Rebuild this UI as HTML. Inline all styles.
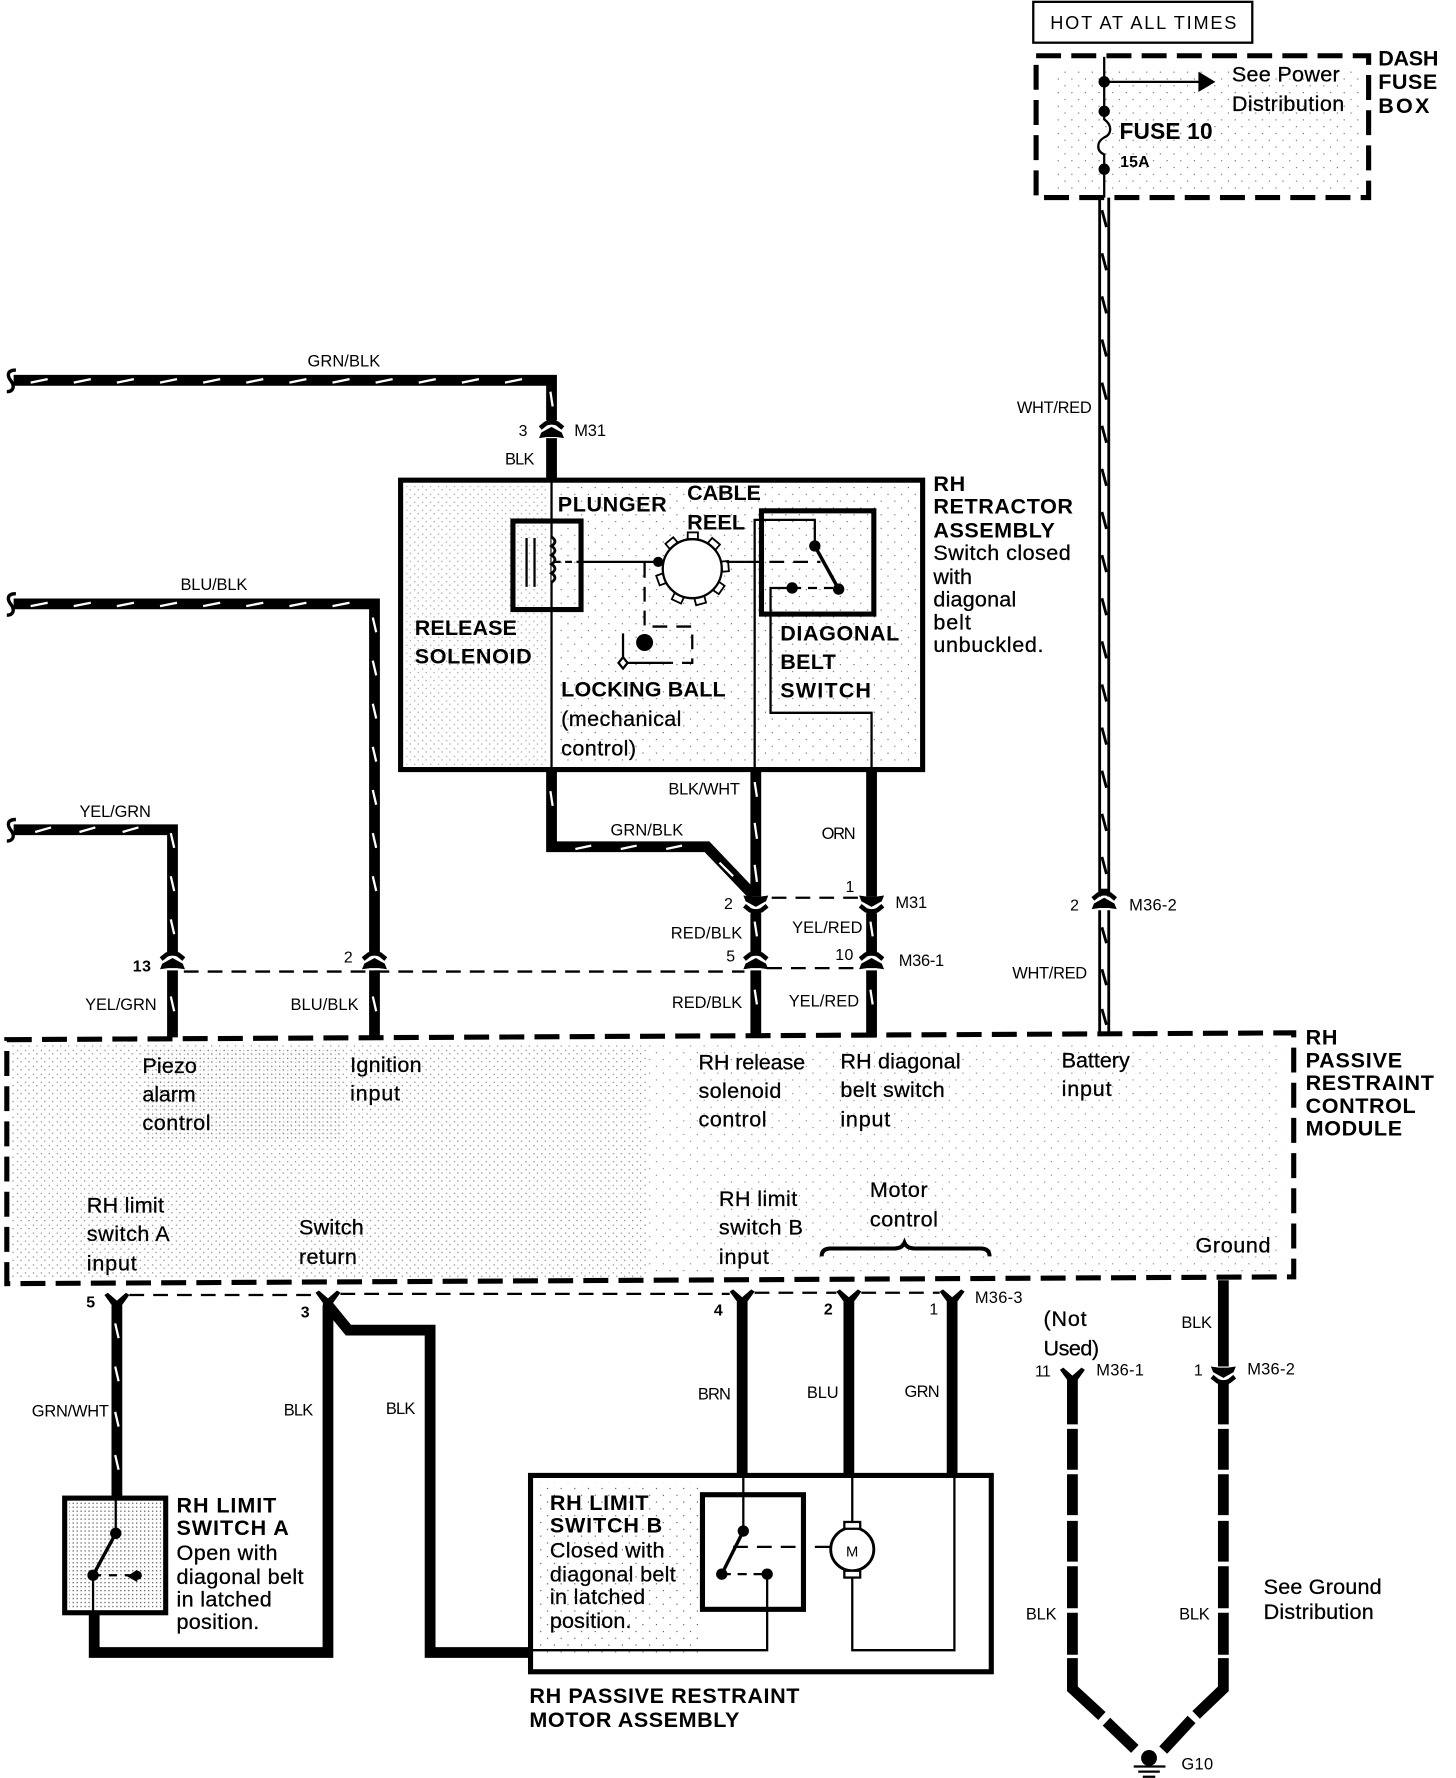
<!DOCTYPE html>
<html><head><meta charset="utf-8"><style>
html,body{margin:0;padding:0;background:#fff}
svg{display:block}
text{font-family:"Liberation Sans",sans-serif;fill:#000;transform:translate(-.5px,-.5px)}
.w{font-size:14.5px;transform:none}
.r{font-size:19px;stroke:#000;stroke-width:.25}
.b{font-size:19px;font-weight:bold;transform:translate(-.5px,-1.5px)}
.n{font-size:14px;transform:none}
.nb{font-size:14px;font-weight:bold;transform:none}
.wire{fill:none;stroke:#000;stroke-width:9.5;stroke-linejoin:miter}
.mk{fill:none;stroke:#fff;stroke-width:2}
.t{fill:none;stroke:#000;stroke-width:2}
.dt{fill:none;stroke:#000;stroke-width:2;stroke-dasharray:13 8}
.box{fill:none;stroke:#000;stroke-width:4.5}
.dbox{fill:none;stroke:#000;stroke-width:4.5;stroke-dasharray:22 9}
</style></head><body>
<svg width="1456" height="1778" viewBox="0 0 1283 1566.5" xmlns="http://www.w3.org/2000/svg">
<defs>
<pattern id="s1" width="7" height="7" patternUnits="userSpaceOnUse"><rect x="1" y="1" width="1" height="1" fill="#000"/><rect x="4" y="4" width="1" height="1" fill="#000"/></pattern>
<pattern id="s2" width="3.5" height="3.5" patternUnits="userSpaceOnUse"><rect x="1" y="1" width="1" height="1" fill="#000"/></pattern>
<pattern id="s3" width="12" height="12" patternUnits="userSpaceOnUse"><rect x="2" y="3" width="1" height="1" fill="#000"/><rect x="8" y="9" width="1" height="1" fill="#000"/></pattern>
<g id="dn">
<path d="M-11,-6 L-4,-5 L4,-5 L11,-6 L9,-1 L0,4 L-9,-1Z" fill="#000"/>
<path d="M-10,3 L-5,7 Q0,9 5,7 L10,3" fill="none" stroke="#000" stroke-width="4"/>
<rect x="-4.5" y="7" width="9" height="5" fill="#000"/>
</g>
<path id="y" d="M-11,-9 L-8,-11 L0,-4 L8,-11 L11,-9 L4.5,0 L4.5,5 L-4.5,5 L-4.5,0Z" fill="#000"/>
</defs>
<rect width="1283" height="1567" fill="#fff"/>

<!-- stipple -->
<rect x="930" y="60" width="270" height="110" fill="url(#s3)" opacity=".6"/>
<rect x="358" y="428" width="125" height="246" fill="url(#s1)" opacity=".45"/>
<rect x="490" y="428" width="318" height="246" fill="url(#s3)" opacity=".6"/>
<rect x="10" y="921" width="560" height="206" fill="url(#s1)" opacity=".55"/>
<rect x="130" y="925" width="170" height="80" fill="url(#s2)" opacity=".3"/>
<rect x="570" y="921" width="560" height="200" fill="url(#s3)" opacity=".5"/>
<rect x="61" y="1323" width="81" height="94" fill="url(#s2)" opacity=".8"/>
<rect x="472" y="1306" width="145" height="150" fill="url(#s3)" opacity=".7"/>

<!-- HOT box -->
<rect x="910.5" y="1.5" width="193" height="36" fill="none" stroke="#000" stroke-width="2"/>
<text x="926" y="26" font-size="16" textLength="164">HOT AT ALL TIMES</text>

<!-- Fuse box -->
<rect x="913" y="49" width="293" height="125" class="dbox"/>
<path d="M973,50 V105 C980,110 980,118 973,121 C966,125 966,133 973,136 V174" class="t"/>
<circle cx="973" cy="72" r="5"/><circle cx="973" cy="98" r="5"/><circle cx="973" cy="149" r="5"/>
<line x1="973" y1="72" x2="1060" y2="72" class="t"/>
<polygon points="1056,63 1071,72 1056,81"/>
<text class="r" x="1086" y="72" textLength="95">See Power</text>
<text class="r" x="1086" y="98" textLength="99">Distribution</text>
<text x="987" y="123" font-size="20" font-weight="bold" textLength="82">FUSE 10</text>
<text class="nb" x="987" y="147" textLength="26">15A</text>
<text class="b" x="1215" y="59" textLength="53">DASH</text>
<text class="b" x="1215" y="80" textLength="52">FUSE</text>
<text class="b" x="1215" y="101" textLength="45">BOX</text>

<!-- WHT/RED -->
<path d="M969,174 V790 M977,174 V790 M969,802 V912 M977,802 V912" fill="none" stroke="#000" stroke-width="2.5"/>
<path d="M971,185l4,15m-4,23l4,15m-4,23l4,15m-4,23l4,15m-4,23l4,15m-4,23l4,15m-4,23l4,15m-4,23l4,15m-4,23l4,15m-4,23l4,15m-4,23l4,15m-4,23l4,15m-4,23l4,15m-4,23l4,15m-4,23l4,15m-4,23l4,15 M971,817l4,14 M971,854l4,14 M971,889l4,14" fill="none" stroke="#000" stroke-width="2.5"/>
<use href="#dn" transform="translate(973,795) scale(1,-1)"/>
<text class="w" x="896" y="364" textLength="66">WHT/RED</text>
<text class="n" x="943" y="802">2</text>
<text class="w" x="995" y="802" textLength="42">M36-2</text>
<text class="w" x="892" y="862" textLength="66">WHT/RED</text>

<!-- GRN/BLK top -->
<path d="M12,335 H486 V370" class="wire"/>
<path d="M27,337l15-3m23,3l15-3m23,3l15-3m23,3l15-3m23,3l15-3m23,3l15-3m23,3l15-3m23,3l15-3m23,3l15-3m23,3l15-3m23,3l15-3m23,3l15-3 M485,345l2,13" class="mk"/>
<path d="M14,326 C6,326 6,331 10,336 C13,340 12,345 6,345" fill="none" stroke="#000" stroke-width="3"/>
<text class="w" x="271" y="323" textLength="64">GRN/BLK</text>
<use href="#dn" transform="translate(486,380) scale(1,-1)"/>
<path d="M486,386 V423" class="wire"/>
<text class="n" x="457" y="384">3</text>
<text class="w" x="506" y="384" textLength="28">M31</text>
<text class="w" x="445" y="409" textLength="26">BLK</text>

<!-- Retractor -->
<rect x="353" y="423" width="460" height="255" class="box"/>
<line x1="486" y1="423" x2="486" y2="678" class="t"/>
<rect x="452" y="459" width="60" height="78" class="box"/>
<path d="M464,474 V517 M471,474 V517" class="t"/>
<path d="M486,473 q6,4 0,8 q6,4 0,8 q6,4 0,8 q6,4 0,8 q6,4 0,8" fill="#fff" stroke="#000" stroke-width="2.5"/>
<path d="M488,495 H512" class="t" stroke-dasharray="6 4"/>
<line x1="512" y1="495" x2="582" y2="495" class="t"/>
<g fill="#fff" stroke="#000" stroke-width="1.6">
<rect x="606" y="469" width="9" height="6" transform="rotate(0 610 501)"/>
<rect x="606" y="469" width="9" height="6" transform="rotate(40 610 501)"/>
<rect x="606" y="469" width="9" height="6" transform="rotate(85 610 501)"/>
<rect x="606" y="469" width="9" height="6" transform="rotate(125 610 501)"/>
<rect x="606" y="469" width="9" height="6" transform="rotate(165 610 501)"/>
<rect x="606" y="469" width="9" height="6" transform="rotate(205 610 501)"/>
<rect x="606" y="469" width="9" height="6" transform="rotate(250 610 501)"/>
<rect x="606" y="469" width="9" height="6" transform="rotate(320 610 501)"/>
</g>
<circle cx="610" cy="501" r="26" fill="#fff" stroke="#000" stroke-width="2"/>
<circle cx="580" cy="495" r="4.5"/>
<path d="M640,495 H657" class="t"/>
<path d="M657,495 H723" class="dt"/>
<path d="M568,496 V552 H610 V584 H592" class="dt"/>
<path d="M592,584 H550 M549,584 V558" class="t"/>
<path d="M549,579 L553,584 L549,589 L545,584Z" fill="#fff" stroke="#000" stroke-width="2"/>
<circle cx="568" cy="566" r="7.5"/>
<rect x="671" y="450" width="99" height="91" class="box" stroke-width="4"/>
<path d="M665,678 V458 H718 V481" class="t"/>
<circle cx="718" cy="481" r="5"/>
<path d="M718,481 L739,519" fill="none" stroke="#000" stroke-width="3"/>
<circle cx="739" cy="519" r="5"/><circle cx="698" cy="518" r="5"/>
<path d="M698,518 H739" class="t" stroke-dasharray="8 6" stroke-width="2.5"/>
<path d="M698,518 H679 V628 H768 V678" class="t"/>
<text class="b" x="492" y="452" textLength="96">PLUNGER</text>
<text class="b" x="606" y="442" textLength="65">CABLE</text>
<text class="b" x="606" y="468" textLength="51">REEL</text>
<text class="b" x="366" y="561" textLength="90">RELEASE</text>
<text class="b" x="366" y="586" textLength="103">SOLENOID</text>
<text class="b" x="688" y="566" textLength="105">DIAGONAL</text>
<text class="b" x="688" y="591" textLength="49">BELT</text>
<text class="b" x="688" y="616" textLength="80">SWITCH</text>
<text class="b" x="495" y="615" textLength="145">LOCKING BALL</text>
<text class="r" x="495" y="640" textLength="106">(mechanical</text>
<text class="r" x="495" y="666" textLength="66">control)</text>
<text class="b" x="823" y="434" textLength="28">RH</text>
<text class="b" x="823" y="454" textLength="123">RETRACTOR</text>
<text class="b" x="823" y="475" textLength="107">ASSEMBLY</text>
<text class="r" x="823" y="494" textLength="121">Switch closed</text>
<text class="r" x="823" y="515" textLength="34">with</text>
<text class="r" x="823" y="535" textLength="73">diagonal</text>
<text class="r" x="823" y="555" textLength="33">belt</text>
<text class="r" x="823" y="575" textLength="97">unbuckled.</text>

<!-- below retractor -->
<path d="M486,678 V746 H623 L664,789" class="wire" stroke-width="9"/>
<path d="M485,697l2,13 M507,748l14-3m26,3l14-3m26,3l14-3 M634,760l12,12" class="mk"/>
<path d="M666,678 V790" class="wire"/>
<path d="M665,689l2,13 M665,725l2,14 M665,762l2,15" class="mk"/>
<path d="M768,678 V790" class="wire"/>
<text class="w" x="589" y="700" textLength="63">BLK/WHT</text>
<text class="w" x="538" y="736" textLength="64">GRN/BLK</text>
<text class="w" x="724" y="739" textLength="30">ORN</text>
<use href="#dn" transform="translate(666,795)"/>
<use href="#dn" transform="translate(768,795)"/>
<path d="M680,791 H760" class="dt"/>
<text class="n" x="638" y="801">2</text>
<text class="n" x="745" y="786">1</text>
<text class="w" x="789" y="800" textLength="28">M31</text>
<path d="M666,805 V842 M768,805 V842" class="wire"/>
<path d="M665,812l2,13 M767,812l2,13" class="mk"/>
<text class="w" x="591" y="827" textLength="63">RED/BLK</text>
<text class="w" x="698" y="822" textLength="62">YEL/RED</text>
<use href="#dn" transform="translate(666,848) scale(1,-1)"/>
<use href="#dn" transform="translate(768,848) scale(1,-1)"/>
<text class="n" x="640" y="847">5</text>
<text class="n" x="736" y="846" textLength="16">10</text>
<text class="w" x="792" y="851" textLength="40">M36-1</text>
<path d="M666,855 V914" class="wire" stroke-width="10.5"/><path d="M768,855 V914" class="wire" stroke-width="10.5"/>
<path d="M665,872l2,13 M767,872l2,13" class="mk"/>
<text class="w" x="592" y="888" textLength="62">RED/BLK</text>
<text class="w" x="695" y="887" textLength="62">YEL/RED</text>

<!-- BLU/BLK -->
<path d="M12,532 H330 V840" class="wire"/>
<path d="M27,534l15-3m23,3l15-3m23,3l15-3m23,3l15-3m23,3l15-3m23,3l15-3m23,3l15-3m23,3l15-3 M328.5,544l3,13m-3,25l3,13m-3,25l3,13m-3,25l3,13m-3,25l3,13m-3,25l3,13m-3,25l3,13" class="mk"/>
<path d="M14,523 C6,523 6,528 10,533 C13,537 12,542 6,542" fill="none" stroke="#000" stroke-width="3"/>
<text class="w" x="159" y="520" textLength="59">BLU/BLK</text>
<use href="#dn" transform="translate(330,848) scale(1,-1)"/>
<path d="M330,855 V914" class="wire"/><path d="M328.5,878l3,13" class="mk"/>
<text class="n" x="303" y="848">2</text>
<text class="w" x="256" y="890" textLength="60">BLU/BLK</text>

<!-- YEL/GRN -->
<path d="M12,731 H152 V840" class="wire"/>
<path d="M31,733l14-4m25,4l14-4m24,4l14-4 M150.5,734l3,13m-3,25l3,13m-3,25l3,13" class="mk"/>
<path d="M14,722 C6,722 6,727 10,732 C13,736 12,741 6,741" fill="none" stroke="#000" stroke-width="3"/>
<text class="w" x="70" y="720" textLength="63">YEL/GRN</text>
<use href="#dn" transform="translate(152,848) scale(1,-1)"/>
<path d="M152,855 V914" class="wire"/><path d="M150.5,878l3,13" class="mk"/>
<text class="nb" x="117" y="856" textLength="16">13</text>
<text class="w" x="75" y="890" textLength="63">YEL/GRN</text>
<path d="M162,856 H656" class="dt"/>
<path d="M676,853 H758" class="dt"/>

<!-- Module -->
<path d="M6,916 L1140,910 V1125 L6,1131Z" class="dbox"/>
<text class="b" x="1151" y="922" textLength="28">RH</text>
<text class="b" x="1151" y="942" textLength="85">PASSIVE</text>
<text class="b" x="1151" y="962" textLength="113">RESTRAINT</text>
<text class="b" x="1151" y="982" textLength="97">CONTROL</text>
<text class="b" x="1151" y="1002" textLength="85">MODULE</text>
<text class="r" x="126" y="946" textLength="48">Piezo</text>
<text class="r" x="126" y="971" textLength="47">alarm</text>
<text class="r" x="126" y="996" textLength="60">control</text>
<text class="r" x="309" y="945" textLength="63">Ignition</text>
<text class="r" x="309" y="970" textLength="44">input</text>
<text class="r" x="616" y="943" textLength="94">RH release</text>
<text class="r" x="616" y="968" textLength="73">solenoid</text>
<text class="r" x="616" y="993" textLength="60">control</text>
<text class="r" x="741" y="942" textLength="106">RH diagonal</text>
<text class="r" x="741" y="967" textLength="92">belt switch</text>
<text class="r" x="741" y="993" textLength="44">input</text>
<text class="r" x="936" y="941" textLength="60">Battery</text>
<text class="r" x="936" y="966" textLength="44">input</text>
<text class="r" x="77" y="1069" textLength="68">RH limit</text>
<text class="r" x="77" y="1094" textLength="73">switch A</text>
<text class="r" x="77" y="1120" textLength="44">input</text>
<text class="r" x="264" y="1088" textLength="57">Switch</text>
<text class="r" x="264" y="1114" textLength="51">return</text>
<text class="r" x="634" y="1063" textLength="69">RH limit</text>
<text class="r" x="634" y="1088" textLength="74">switch B</text>
<text class="r" x="634" y="1114" textLength="44">input</text>
<text class="r" x="767" y="1055" textLength="51">Motor</text>
<text class="r" x="767" y="1081" textLength="60">control</text>
<path d="M724,1107 Q724,1100 732,1100 H788 Q795,1100 797,1095 Q799,1100 806,1100 H864 Q872,1100 872,1107" fill="none" stroke="#000" stroke-width="3.5"/>
<text class="r" x="1054" y="1104" textLength="66">Ground</text>

<!-- below module -->
<path d="M114,1141 H278 M300,1140 H643 M665,1139 H737 M759,1139 H828" class="dt"/>
<use href="#y" transform="translate(103,1150)"/>
<use href="#y" transform="translate(289,1148)"/>
<use href="#y" transform="translate(654,1147)"/>
<use href="#y" transform="translate(748,1147)"/>
<use href="#y" transform="translate(839,1147)"/>
<text class="nb" x="76" y="1152">5</text>
<text class="nb" x="265" y="1161">3</text>
<text class="nb" x="629" y="1159">4</text>
<text class="nb" x="726" y="1158">2</text>
<text class="n" x="819" y="1158">1</text>
<text class="w" x="859" y="1148" textLength="42">M36-3</text>
<path d="M103,1150 V1319" class="wire"/>
<path d="M101.5,1166l3,13m-3,25l3,13m-3,27l3,13m-3,25l3,13" class="mk"/>
<text class="w" x="28" y="1248" textLength="68">GRN/WHT</text>
<path d="M83,1421 V1456 H289 V1150" class="wire"/>
<path d="M289,1150 L307,1172 H379 V1456 H468" class="wire" stroke-width="10"/>
<text class="w" x="250" y="1247" textLength="26">BLK</text>
<text class="w" x="340" y="1246" textLength="26">BLK</text>

<!-- Limit A -->
<rect x="57" y="1320" width="89" height="101" class="box" stroke-width="4"/>
<path d="M102,1320 V1351" class="t"/>
<circle cx="102" cy="1351" r="5"/><circle cx="82" cy="1388" r="5"/>
<path d="M102,1351 L82,1388" fill="none" stroke="#000" stroke-width="3"/>
<path d="M82,1388 H120" class="t" stroke-dasharray="7 7" stroke-width="2.5"/>
<path d="M121,1383 L121,1394 L112,1389Z"/><circle cx="121" cy="1388" r="4"/>
<path d="M82,1388 V1421" class="t"/>
<text class="b" x="156" y="1334" textLength="88">RH LIMIT</text>
<text class="b" x="156" y="1354" textLength="99">SWITCH A</text>
<text class="r" x="156" y="1375" textLength="89">Open with</text>
<text class="r" x="156" y="1396" textLength="112">diagonal belt</text>
<text class="r" x="156" y="1416" textLength="84">in latched</text>
<text class="r" x="156" y="1436" textLength="73">position.</text>

<!-- Motor assembly -->
<path d="M654,1147 V1302" class="wire" stroke-width="10.5"/>
<path d="M748,1147 V1301" class="wire"/>
<path d="M839,1147 V1301" class="wire"/>
<text class="w" x="615" y="1233" textLength="29">BRN</text>
<text class="w" x="711" y="1232" textLength="28">BLU</text>
<text class="w" x="797" y="1231" textLength="31">GRN</text>
<rect x="467.5" y="1300" width="406" height="173" class="box"/>
<rect x="619" y="1317" width="89" height="101" class="box" stroke-width="4"/>
<path d="M655,1301 V1349" class="t"/>
<circle cx="655" cy="1349" r="5"/><circle cx="636" cy="1387" r="5"/><circle cx="676" cy="1387" r="5"/>
<path d="M655,1349 L636,1387" fill="none" stroke="#000" stroke-width="3"/>
<path d="M636,1387 H676" class="t" stroke-dasharray="8 6" stroke-width="2.5"/>
<path d="M676,1387 V1454 H468" class="t"/>
<path d="M646,1363 H709" class="dt"/>
<path d="M718,1363 H732" class="t"/>
<circle cx="751" cy="1365" r="19" fill="#fff" stroke="#000" stroke-width="2.5"/>
<rect x="744" y="1341" width="14" height="6" fill="#fff" stroke="#000" stroke-width="2"/>
<rect x="744" y="1384" width="14" height="6" fill="#fff" stroke="#000" stroke-width="2"/>
<text x="746" y="1372" font-size="13">M</text>
<path d="M751,1301 V1341 M751,1390 V1454 H841 V1301" class="t"/>
<text class="b" x="485" y="1332" textLength="87">RH LIMIT</text>
<text class="b" x="485" y="1352" textLength="99">SWITCH B</text>
<text class="r" x="485" y="1373" textLength="101">Closed with</text>
<text class="r" x="485" y="1394" textLength="111">diagonal belt</text>
<text class="r" x="485" y="1414" textLength="84">in latched</text>
<text class="r" x="485" y="1435" textLength="72">position.</text>
<text class="b" x="467" y="1502" textLength="238">RH PASSIVE RESTRAINT</text>
<text class="b" x="467" y="1523" textLength="185">MOTOR ASSEMBLY</text>

<!-- Ground -->
<text class="r" x="920" y="1169" textLength="38">(Not</text>
<text class="r" x="920" y="1195" textLength="49">Used)</text>
<text class="n" x="912" y="1213" textLength="14">11</text>
<text class="w" x="966" y="1212" textLength="42">M36-1</text>
<text class="n" x="1052" y="1212">1</text>
<text class="w" x="1099" y="1211" textLength="42">M36-2</text>
<text class="w" x="1041" y="1170" textLength="27">BLK</text>
<text class="w" x="904" y="1427" textLength="27">BLK</text>
<text class="w" x="1039" y="1427" textLength="27">BLK</text>
<use href="#y" transform="translate(945,1216)"/>
<path d="M1078,1128 V1204" class="wire"/>
<use href="#dn" transform="translate(1078,1210)"/>
<path d="M945,1216 V1255 M945,1259 V1295 M945,1299 V1335 M945,1340 V1376 M945,1380 V1417 M945,1421 V1458 M945,1461 V1488 L971,1512 M975,1517 L1000,1541" class="wire" stroke-width="10"/>
<path d="M1078,1218 V1255 M1078,1259 V1295 M1078,1299 V1335 M1078,1340 V1376 M1078,1380 V1417 M1078,1421 V1458 M1078,1461 V1488 L1054,1511 M1050,1515 L1025,1542" class="wire" stroke-width="10"/>
<circle cx="1012.5" cy="1549" r="7"/>
<path d="M999,1556.5 H1027 M1003,1561 H1022 M1007,1565.5 H1018" fill="none" stroke="#000" stroke-width="2"/>
<text class="w" x="1041" y="1559" textLength="28">G10</text>
<text class="r" x="1114" y="1405" textLength="104">See Ground</text>
<text class="r" x="1114" y="1427" textLength="97">Distribution</text>
</svg>
</body></html>
